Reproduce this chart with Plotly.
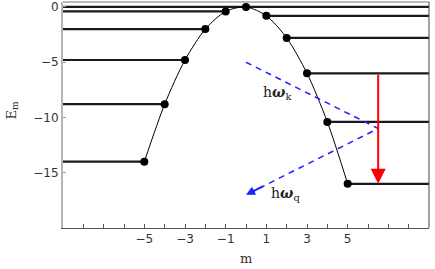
import plotly.graph_objects as go

m_vals = [-5, -4, -3, -2, -1, 0, 1, 2, 3, 4, 5]
E_vals = [-14, -8.8, -4.8, -2, -0.4, 0, -0.8, -2.8, -6, -10.4, -16]

x_tick_vals = list(range(-8, 9))
x_tick_labels = ["−5" if v == -5 else "−3" if v == -3 else "−1" if v == -1 else
                 str(v) if v in (1, 3, 5) else "" for v in x_tick_vals]
y_tick_vals = [0, -5, -10, -15]
y_tick_labels = ["0", "−5", "−10", "−15"]

# photon path (ħω_k in, ħω_q out) and the electron transition
photon_m = [0, 6.5, 0]
photon_E = [-5, -11, -17]
trans_m = 6.5
trans_E_from = -6
trans_E_to = -16

x_min, x_max = -9, 9

fig = go.Figure()

# energy level lines
lx, ly = [], []
for m, e in zip(m_vals, E_vals):
    if m < 0:
        xs = [x_min, m]
    elif m > 0:
        xs = [m, x_max]
    else:
        xs = [x_min, x_max]
    lx += xs + [None]
    ly += [e, e, None]
fig.add_trace(go.Scatter(x=lx, y=ly, mode="lines",
                         line=dict(color="#1a1a1a", width=2.2), hoverinfo="skip"))

# curve with points
fig.add_trace(go.Scatter(x=m_vals, y=E_vals, mode="lines+markers",
                         line=dict(color="black", width=1, shape="spline", smoothing=0.8),
                         marker=dict(color="black", size=8)))

# blue dashed photon path
fig.add_trace(go.Scatter(x=photon_m, y=photon_E, mode="lines",
                         line=dict(color="#2020ff", width=1.5, dash="6px,5px")))

annotations = [
    dict(x=photon_m[2], y=photon_E[2], ax=photon_m[2] + 0.9, ay=photon_E[2] + 0.83,
         xref="x", yref="y", axref="x", ayref="y", text="", showarrow=True,
         arrowhead=2, arrowsize=0.9, arrowwidth=2, arrowcolor="#2020ff"),
    dict(x=trans_m, y=trans_E_to, ax=trans_m, ay=trans_E_from,
         xref="x", yref="y", axref="x", ayref="y", text="", showarrow=True,
         arrowhead=2, arrowsize=1.5, arrowwidth=2, arrowcolor="#ff0000"),
    dict(x=1.5, y=-7.8, xref="x", yref="y", showarrow=False,
         text="h<b><i>ω</i></b><sub>k</sub>",
         font=dict(family="DejaVu Serif", size=14, color="#222")),
    dict(x=1.95, y=-16.9, xref="x", yref="y", showarrow=False,
         text="h<b><i>ω</i></b><sub>q</sub>",
         font=dict(family="DejaVu Serif", size=14, color="#222")),
    dict(x=0.5, y=0, xref="paper", yref="paper", yshift=-30, xanchor="center", yanchor="middle",
         showarrow=False, text="m", font=dict(family="DejaVu Serif", size=13, color="#333")),
    dict(x=0, y=0.52, xref="paper", yref="paper", xshift=-51, xanchor="center", yanchor="middle",
         showarrow=False, text="E<sub>m</sub>", textangle=-90,
         font=dict(family="DejaVu Serif", size=13, color="#333")),
]

shapes = [
    dict(type="line", xref="paper", yref="paper", x0=0, x1=1, y0=1, y1=1,
         line=dict(color="#bbbbbb", width=2)),
    dict(type="line", xref="paper", yref="paper", x0=1, x1=1, y0=0, y1=1,
         line=dict(color="#444444", width=1)),
]

fig.update_layout(
    width=435, height=269,
    margin=dict(l=63, r=6, t=2, b=41),
    plot_bgcolor="white", paper_bgcolor="white",
    showlegend=False,
    annotations=annotations,
    shapes=shapes,
    xaxis=dict(range=[x_min, x_max], tickvals=x_tick_vals, ticktext=x_tick_labels,
               ticks="inside", ticklen=4, tickcolor="#555", showgrid=False, zeroline=False,
               showline=True, linecolor="#555", linewidth=1, automargin=False,
               tickfont=dict(family="DejaVu Sans", size=12, color="#333")),
    yaxis=dict(range=[-20, 0.45], tickvals=y_tick_vals, ticktext=y_tick_labels,
               ticks="inside", ticklen=3, tickcolor="#999", showgrid=False, zeroline=False,
               showline=True, linecolor="#b5b5b5", linewidth=2, automargin=False,
               tickfont=dict(family="DejaVu Sans", size=12, color="#333")),
)

fig.write_html("out.html", config={"displayModeBar": False},
               post_script="document.body.style.margin='0';document.body.style.overflow='hidden';")
